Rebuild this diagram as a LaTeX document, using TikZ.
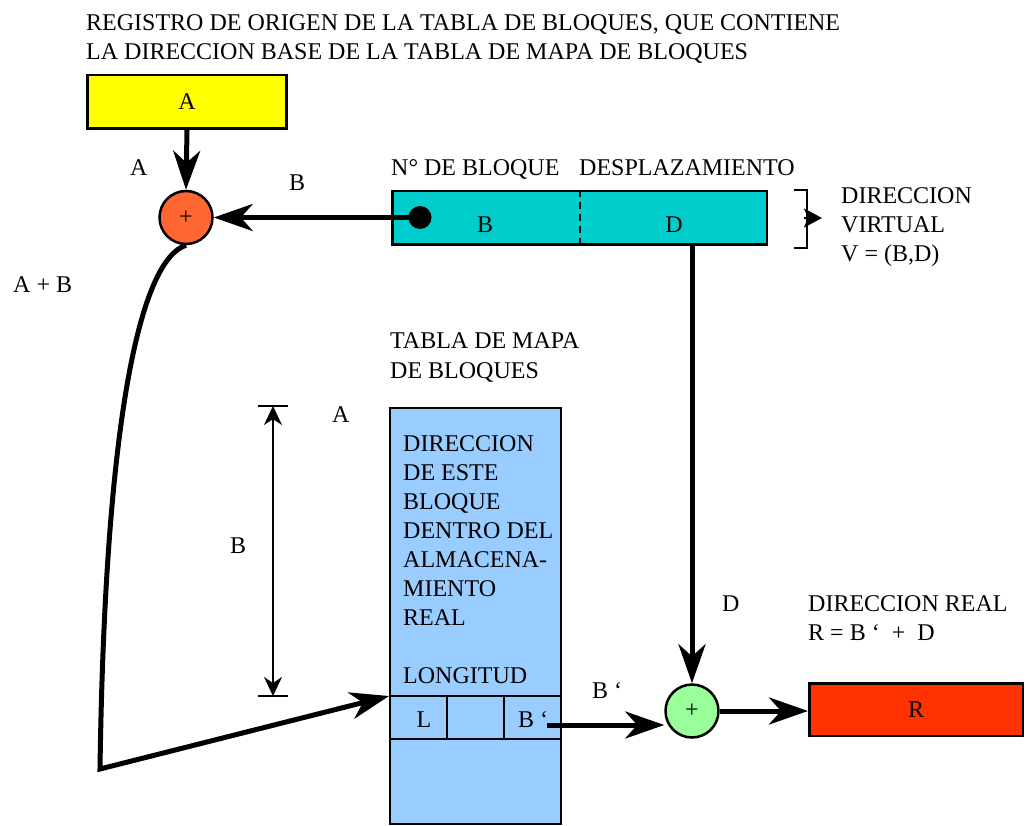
\documentclass[tikz,border=0pt]{standalone}
\usepackage{fontspec}
\setmainfont{Liberation Serif}
\usetikzlibrary{arrows.meta,calc}
\definecolor{RegYellow}{RGB}{255,255,0}
\definecolor{SumOrange}{RGB}{255,102,51}
\definecolor{VirtTeal}{RGB}{0,204,204}
\definecolor{MapBlue}{RGB}{153,204,255}
\definecolor{SumGreen}{RGB}{153,255,153}
\definecolor{RealRed}{RGB}{255,51,0}

\begin{document}
\begin{tikzpicture}[
  x=1pt, y=-1pt,
  font=\fontsize{24}{29}\selectfont,
  box/.style={draw=black, line width=2.5pt, inner sep=0pt},
  adder/.style={circle, draw=black, line width=2.5pt, minimum size=53pt, inner sep=0pt},
  lbl/.style={inner sep=0pt, anchor=base west, align=left},
  flow/.style={-{Stealth[length=39pt, width=27pt, inset=12pt]}, line width=5pt},
  span/.style={{Stealth[length=19pt, width=18pt, inset=6pt]}-{Stealth[length=19pt, width=18pt, inset=6pt]}, line width=1.5pt},
  rule/.style={line width=2pt}
]
\useasboundingbox (0,0) rectangle (1026,826);

% multi-line labels sit on the baseline of their last line
\node[lbl] (title) at (86,60) {REGISTRO DE ORIGEN DE LA TABLA DE BLOQUES, QUE CONTIENE\\LA DIRECCION BASE DE LA TABLA DE MAPA DE BLOQUES};
\node[box, fill=RegYellow, minimum width=199pt, minimum height=53.5pt] (reg) at (187,102) {A};
\node[adder, fill=SumOrange] (sumA) at (186,217.5) {+};

\node[box, fill=VirtTeal, minimum width=374.5pt, minimum height=53.5pt] (virt) at (579.5,218) {};
\draw[line width=2pt, dash pattern=on 7pt off 5pt] (virt.north) -- (virt.south);
\node[circle, fill=black, minimum size=23pt, inner sep=0pt] (dot) at (420,217.5) {};
\node[lbl, anchor=base] (virtB) at (485,233) {B};
\node[lbl, anchor=base] (virtD) at (674,233) {D};
\node[lbl] (nbloque) at (391,176) {N° DE BLOQUE};
\node[lbl] (desp) at (579,176) {DESPLAZAMIENTO};

\draw[line width=2.5pt] (794,190) -- (807,190) -- (807,248) -- (794,248);
\draw[line width=2pt, -{Stealth[length=18pt, width=19pt, inset=4pt]}] (804,218) -- (822,218);
\node[lbl] (virtual) at (841,262) {DIRECCION\\VIRTUAL\\V = (B,D)};

\node[lbl] (lblA) at (130,176) {A};
\node[lbl] (lblB) at (289,191) {B};
\node[lbl] (lblAB) at (13,293) {A + B};

\node[lbl] (maptitle) at (390,378) {TABLA DE MAPA\\DE BLOQUES};
\node[draw=black, line width=2pt, fill=MapBlue, minimum width=171pt, minimum height=416pt, inner sep=0pt] (map) at (475.5,616) {};
\node[lbl] (maptext) at (403,683) {DIRECCION\\DE ESTE\\BLOQUE\\DENTRO DEL\\ALMACENA-\\MIENTO\\REAL\\[29pt]LONGITUD};
\coordinate (rowL) at (389,696);
\coordinate (rowR) at (562,696);
\coordinate (rowL2) at (389,739);
\coordinate (rowR2) at (562,739);
\draw[rule] (rowL) -- (rowR);
\draw[rule] (rowL2) -- (rowR2);
\draw[rule] (447,696) -- (447,739);
\draw[rule] (504,696) -- (504,739);
\node[lbl, anchor=base] (cellL) at (424,727) {L};
\node[lbl] (cellB) at (518,727) {B ‘};

\coordinate (dimtop) at (273,406);
\coordinate (dimbot) at (273,696);
\draw[rule] ($(dimtop)+(-15,0)$) -- ($(dimtop)+(15,0)$);
\draw[rule] ($(dimbot)+(-15,0)$) -- ($(dimbot)+(15,0)$);
\draw[span] (dimtop) -- (dimbot);
\node[lbl] (dimB) at (230,553) {B};
\node[lbl] (mapA) at (332,422) {A};

\node[adder, fill=SumGreen] (sumR) at (692,711) {+};
\node[box, fill=RealRed, minimum width=213.5pt, minimum height=52.5pt] (real) at (916,709.5) {R};
\node[lbl] (lblD) at (722,611) {D};
\node[lbl] (realtext) at (808,640) {DIRECCION REAL\\R = B ‘\ \ +\ \ D};
\node[lbl] (lblBp) at (592,698) {B ‘};

\coordinate (bend) at (100,769);
\coordinate (bsrc) at (547,725);

\draw[flow] (reg.south) -- (sumA.north);
\draw[flow] (dot.center) -- (dot.center -| sumA.east);
\draw[flow] (sumA.south) .. controls (140,260) and (105,420) .. (bend) -- (rowL);
\draw[flow] (virt.south -| sumR.north) -- (sumR.north);
\draw[flow] (bsrc) -- (bsrc -| sumR.west);
\draw[flow] (sumR.east) -- (sumR.east -| real.west);
\end{tikzpicture}
\end{document}
